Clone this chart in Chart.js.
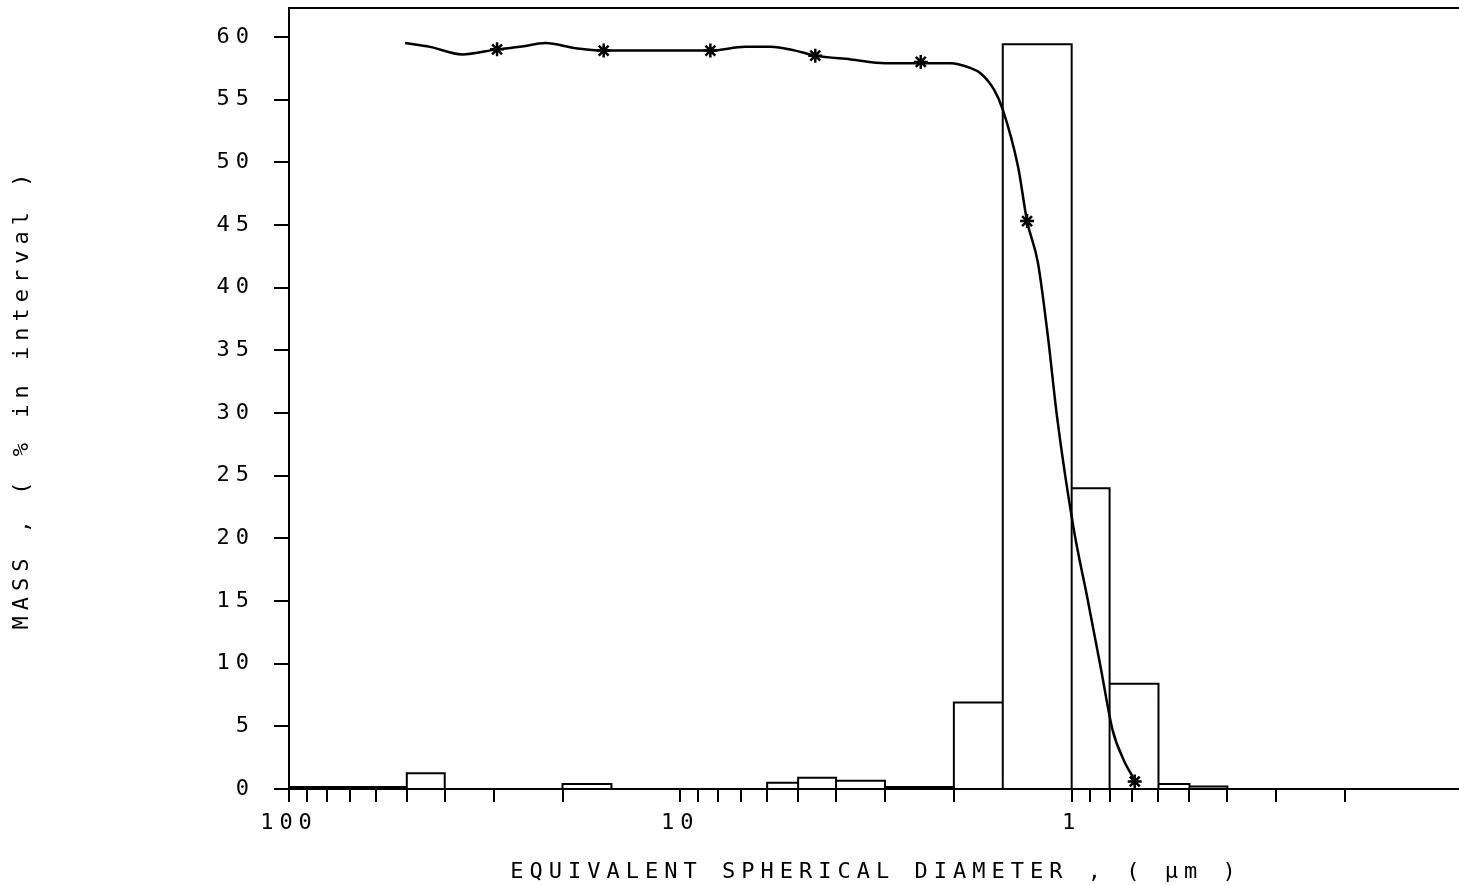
<!DOCTYPE html>
<html>
<head>
<meta charset="utf-8">
<script src="https://cdn.jsdelivr.net/npm/chart.js@4"></script>
<style>
  html, body { margin: 0; padding: 0; background: #fff; overflow: hidden; }
  #wrap { width: 1463px; height: 885px; }
</style>
</head>
<body>
<div id="wrap"><canvas id="chart"></canvas></div>
<script>
// histogram bins (diameter edges in µm, large to small) and % mass in each bin
const binEdges = [100, 50, 40, 20, 15, 6, 5, 4, 3, 2, 1.5, 1, 0.8, 0.6, 0.5, 0.4, 0.1];
const binMass = [0.15, 1.25, 0, 0.4, 0, 0.5, 0.9, 0.65, 0.15, 6.9, 59.4, 24.0, 8.4, 0.4, 0.2, 0];

// smooth curve
const curveDiam = [50.5, 43.6, 36.1, 29.4, 25.7, 22.1, 18.6, 15.7, 11.2, 8.38, 6.82, 5.89, 5.08, 4.52, 3.67, 2.99, 2.43, 2.04,
                   1.81, 1.71, 1.58, 1.50, 1.37, 1.30, 1.22, 1.15, 1.09, 0.99, 0.91, 0.843, 0.786, 0.736, 0.69];
const curveMass = [59.5, 59.2, 58.6, 59.0, 59.2, 59.5, 59.1, 58.9, 58.9, 58.9, 59.2, 59.2, 58.9, 58.5, 58.2, 57.9, 57.9, 57.9,
                   57.5, 57.1, 55.8, 54.2, 49.6, 45.3, 42.0, 36.1, 29.7, 20.9, 15.1, 9.7, 4.7, 2.3, 0.7];

// asterisk markers
const starDiam = [29.4, 15.7, 8.38, 4.52, 2.43, 1.30, 0.69];
const starMass = [59.0, 58.9, 58.9, 58.5, 58.0, 45.3, 0.6];

// axes
const xTickValues = [100, 90, 80, 70, 60, 50, 40, 30, 20, 10, 9, 8, 7, 6, 5, 4, 3, 2, 1, 0.9, 0.8, 0.7, 0.6, 0.5, 0.4, 0.3, 0.2, 0.1];
const xLabelValues = [100, 10, 1];
const yTickValues = [0, 5, 10, 15, 20, 25, 30, 35, 40, 45, 50, 55, 60];

// outline of the histogram boxes
const histPoints = [];
binMass.forEach((m, i) => {
    histPoints.push({ x: binEdges[i], y: 0 });
    histPoints.push({ x: binEdges[i], y: m });
    histPoints.push({ x: binEdges[i + 1], y: m });
    histPoints.push({ x: binEdges[i + 1], y: 0 });
});

// plotter-style wide letter spacing for all text
const spacing = {
    id: 'spacing',
    beforeUpdate(chart) { chart.ctx.letterSpacing = '6px'; },
    beforeDraw(chart) { chart.ctx.letterSpacing = '6px'; }
};

Chart.defaults.font.family = '"DejaVu Sans Mono", monospace';
Chart.defaults.font.size = 22;
Chart.defaults.color = '#000';

new Chart(document.getElementById('chart'), {
    type: 'line',
    data: {
        datasets: [
            {
                data: histPoints,
                borderColor: '#000',
                borderWidth: 2,
                pointRadius: 0,
                tension: 0,
                fill: false
            },
            {
                data: curveDiam.map((d, i) => ({ x: d, y: curveMass[i] })),
                borderColor: '#000',
                borderWidth: 2.5,
                pointRadius: 0,
                cubicInterpolationMode: 'monotone',
                fill: false
            },
            {
                data: starDiam.map((d, i) => ({ x: d, y: starMass[i] })),
                showLine: false,
                pointStyle: 'star',
                pointRadius: 7,
                pointBorderWidth: 2.5,
                pointBorderColor: '#000',
                pointBackgroundColor: '#000'
            }
        ]
    },
    options: {
        responsive: true,
        maintainAspectRatio: false,
        animation: false,
        devicePixelRatio: 1,
        layout: { padding: 0, autoPadding: false },
        plugins: { legend: { display: false }, tooltip: { enabled: false } },
        scales: {
            x: {
                type: 'logarithmic',
                position: 'bottom',
                reverse: true,
                min: 0.1,
                max: 100,
                afterBuildTicks: (scale) => { scale.ticks = xTickValues.map(v => ({ value: v })); },
                afterFit: (scale) => {
                    scale.height = 96;
                    scale.paddingLeft = 0;
                    scale.paddingRight = 0;
                },
                ticks: {
                    autoSkip: false,
                    maxRotation: 0,
                    padding: 8,
                    callback: (v) => xLabelValues.includes(v) ? String(v) : ''
                },
                grid: { display: true, drawOnChartArea: false, tickLength: 13, color: '#000', lineWidth: 2 },
                border: { display: true, color: '#000', width: 2 },
                title: {
                    display: true,
                    text: 'EQUIVALENT SPHERICAL DIAMETER , ( µm )',
                    padding: { top: 4, bottom: 0 }
                }
            },
            xTop: {
                type: 'logarithmic',
                position: 'top',
                reverse: true,
                min: 0.1,
                max: 100,
                display: true,
                afterFit: (scale) => {
                    scale.height = 8;
                    scale.paddingLeft = 0;
                    scale.paddingRight = 0;
                },
                ticks: { display: false },
                grid: { display: false },
                border: { display: true, color: '#000', width: 2 }
            },
            y: {
                type: 'linear',
                min: 0,
                max: 62.3,
                afterBuildTicks: (scale) => { scale.ticks = yTickValues.map(v => ({ value: v })); },
                afterFit: (scale) => {
                    scale.width = 289;
                    scale.paddingTop = 0;
                    scale.paddingBottom = 0;
                },
                ticks: { padding: 19 },
                grid: { display: true, drawOnChartArea: false, tickLength: 15, color: '#000', lineWidth: 2 },
                border: { display: true, color: '#000', width: 2 },
                title: {
                    display: true,
                    text: 'MASS , ( % in interval )',
                    padding: { top: 9, bottom: 0 }
                }
            }
        }
    },
    plugins: [spacing]
});
</script>
</body>
</html>
